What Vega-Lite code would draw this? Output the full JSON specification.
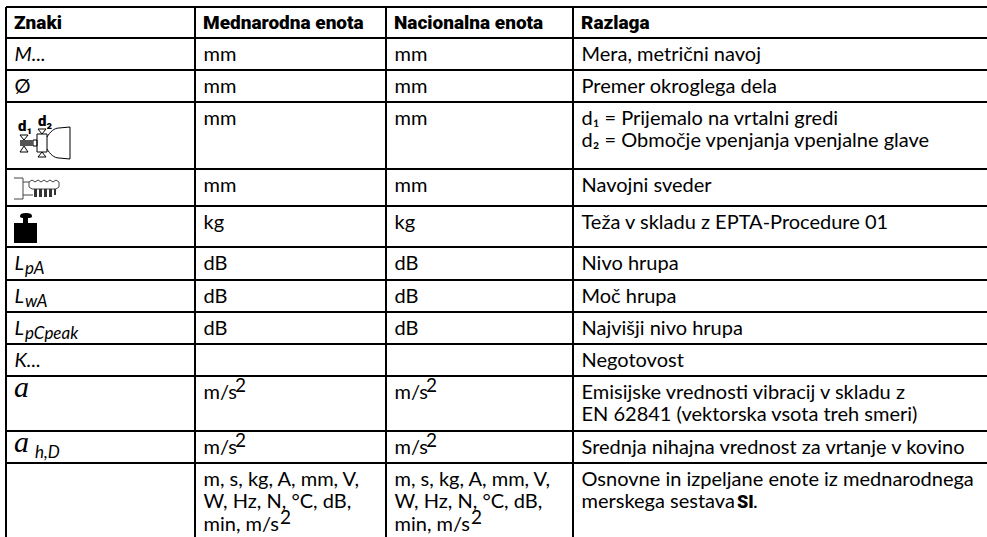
{"$schema":"https://vega.github.io/schema/vega-lite/v6.json","width":987,"height":537,"padding":0,"autosize":{"type":"none"},"background":"white","config":{"view":{"stroke":null}},
"datasets":{"cells":[
{"row":1,"col":1,"text":"Znaki","kind":"head"},{"row":1,"col":2,"text":"Mednarodna enota","kind":"head"},{"row":1,"col":3,"text":"Nacionalna enota","kind":"head"},{"row":1,"col":4,"text":"Razlaga","kind":"head"},
{"row":2,"col":1,"text":"M...","kind":"sym"},{"row":2,"col":2,"text":"mm","kind":"body"},{"row":2,"col":3,"text":"mm","kind":"body"},{"row":2,"col":4,"text":"Mera, metrični navoj","kind":"body"},
{"row":3,"col":1,"text":"Ø","kind":"body"},{"row":3,"col":2,"text":"mm","kind":"body"},{"row":3,"col":3,"text":"mm","kind":"body"},{"row":3,"col":4,"text":"Premer okroglega dela","kind":"body"},
{"row":4,"col":2,"text":"mm","kind":"body"},{"row":4,"col":3,"text":"mm","kind":"body"},{"row":4,"col":4,"text":"d₁ = Prijemalo na vrtalni gredi\nd₂ = Območje vpenjanja vpenjalne glave","kind":"body"},
{"row":5,"col":2,"text":"mm","kind":"body"},{"row":5,"col":3,"text":"mm","kind":"body"},{"row":5,"col":4,"text":"Navojni sveder","kind":"body"},
{"row":6,"col":2,"text":"kg","kind":"body"},{"row":6,"col":3,"text":"kg","kind":"body"},{"row":6,"col":4,"text":"Teža v skladu z EPTA-Procedure 01","kind":"body"},
{"row":7,"col":1,"text":"L","kind":"sym"},{"row":7,"col":1,"text":"pA","kind":"sub"},{"row":7,"col":2,"text":"dB","kind":"body"},{"row":7,"col":3,"text":"dB","kind":"body"},{"row":7,"col":4,"text":"Nivo hrupa","kind":"body"},
{"row":8,"col":1,"text":"L","kind":"sym"},{"row":8,"col":1,"text":"wA","kind":"sub"},{"row":8,"col":2,"text":"dB","kind":"body"},{"row":8,"col":3,"text":"dB","kind":"body"},{"row":8,"col":4,"text":"Moč hrupa","kind":"body"},
{"row":9,"col":1,"text":"L","kind":"sym"},{"row":9,"col":1,"text":"pCpeak","kind":"sub"},{"row":9,"col":2,"text":"dB","kind":"body"},{"row":9,"col":3,"text":"dB","kind":"body"},{"row":9,"col":4,"text":"Najvišji nivo hrupa","kind":"body"},
{"row":10,"col":1,"text":"K...","kind":"sym"},{"row":10,"col":4,"text":"Negotovost","kind":"body"},
{"row":11,"col":1,"text":"a","kind":"big"},{"row":11,"col":2,"text":"m/s","kind":"body"},{"row":11,"col":2,"text":"2","kind":"sup"},{"row":11,"col":3,"text":"m/s","kind":"body"},{"row":11,"col":3,"text":"2","kind":"sup"},{"row":11,"col":4,"text":"Emisijske vrednosti vibracij v skladu z\nEN 62841 (vektorska vsota treh smeri)","kind":"body"},
{"row":12,"col":1,"text":"a","kind":"big"},{"row":12,"col":1,"text":"h,D","kind":"subfar"},{"row":12,"col":2,"text":"m/s","kind":"body"},{"row":12,"col":2,"text":"2","kind":"sup"},{"row":12,"col":3,"text":"m/s","kind":"body"},{"row":12,"col":3,"text":"2","kind":"sup"},{"row":12,"col":4,"text":"Srednja nihajna vrednost za vrtanje v kovino","kind":"body"},
{"row":13,"col":2,"text":"m, s, kg, A, mm, V,\nW, Hz, N, °C, dB,\nmin, m/s","kind":"body"},{"row":13,"col":2,"text":"2","kind":"suplast"},{"row":13,"col":3,"text":"m, s, kg, A, mm, V,\nW, Hz, N, °C, dB,\nmin, m/s","kind":"body"},{"row":13,"col":3,"text":"2","kind":"suplast"},{"row":13,"col":4,"text":"Osnovne in izpeljane enote iz mednarodnega\nmerskega sestava","kind":"body"},{"row":13,"col":4,"text":"SI","kind":"si"},{"row":13,"col":4,"text":".","kind":"dot"},
{"row":4,"col":1,"text":"d₁","kind":"d1"},{"row":4,"col":1,"text":"d₂","kind":"d2"}
],
"hlines":[{"row":1,"col":1,"end":5},{"row":2,"col":1,"end":5},{"row":3,"col":1,"end":5},{"row":4,"col":1,"end":5},{"row":5,"col":1,"end":5},{"row":6,"col":1,"end":5},{"row":7,"col":1,"end":5},{"row":8,"col":1,"end":5},{"row":9,"col":1,"end":5},{"row":10,"col":1,"end":5},{"row":11,"col":1,"end":5},{"row":12,"col":1,"end":5},{"row":13,"col":1,"end":5}],
"vlines":[{"col":1,"row":1,"end":14},{"col":2,"row":1,"end":14},{"col":3,"row":1,"end":14},{"col":4,"row":1,"end":14}],
"chuck":[{"row":4,"col":1}],"tap":[{"row":5,"col":1}],"weight":[{"row":6,"col":1}]},
"encoding":{"x":{"field":"col","type":"quantitative","axis":null,"scale":{"type":"linear","domain":[1,2,3,4,5],"range":[6,195,386,573,987]}},
"y":{"field":"row","type":"quantitative","axis":null,"scale":{"type":"linear","domain":[1,2,3,4,5,6,7,8,9,10,11,12,13,14],"range":[7,38,70,102,169,206,247,280,312,344,376,431,463,537]}}},
"layer":[
{"data":{"name":"hlines"},"mark":{"type":"rule","stroke":"#000","strokeWidth":2},"encoding":{"x2":{"field":"end"}}},
{"data":{"name":"vlines"},"mark":{"type":"rule","stroke":"#000","strokeWidth":2},"encoding":{"y2":{"field":"end"}}},
{"data":{"name":"cells"},"transform":[{"filter":"datum.kind=='head'"}],"mark":{"type":"text","align":"left","baseline":"alphabetic","font":"Roboto","fontWeight":900,"fontSize":19,"dx":8,"dy":22,"fill":"#000"},"encoding":{"text":{"field":"text"}}},
{"data":{"name":"cells"},"transform":[{"filter":"datum.kind=='body'"}],"mark":{"type":"text","align":"left","baseline":"alphabetic","font":"Lato","fontSize":20,"lineBreak":"\n","lineHeight":22.5,"dx":8.5,"dy":22.5,"fill":"#000"},"encoding":{"text":{"field":"text"}}},
{"data":{"name":"cells"},"transform":[{"filter":"datum.kind=='sym'"}],"mark":{"type":"text","align":"left","baseline":"alphabetic","font":"Lato","fontStyle":"italic","fontSize":20,"dx":8.5,"dy":22.5,"fill":"#000"},"encoding":{"text":{"field":"text"}}},
{"data":{"name":"cells"},"transform":[{"filter":"datum.kind=='big'"}],"mark":{"type":"text","align":"left","baseline":"alphabetic","font":"Liberation Serif","fontStyle":"italic","fontSize":30,"dx":8,"dy":21,"fill":"#000"},"encoding":{"text":{"field":"text"}}},
{"data":{"name":"cells"},"transform":[{"filter":"datum.kind=='sub'"}],"mark":{"type":"text","align":"left","baseline":"alphabetic","font":"Lato","fontStyle":"italic","fontSize":17,"dx":19,"dy":27,"fill":"#000"},"encoding":{"text":{"field":"text"}}},
{"data":{"name":"cells"},"transform":[{"filter":"datum.kind=='subfar'"}],"mark":{"type":"text","align":"left","baseline":"alphabetic","font":"Lato","fontStyle":"italic","fontSize":17,"dx":29,"dy":27,"fill":"#000"},"encoding":{"text":{"field":"text"}}},
{"data":{"name":"cells"},"transform":[{"filter":"datum.kind=='sup'"}],"mark":{"type":"text","align":"left","baseline":"alphabetic","font":"Lato","fontSize":19,"dx":40,"dy":16,"fill":"#000"},"encoding":{"text":{"field":"text"}}},
{"data":{"name":"cells"},"transform":[{"filter":"datum.kind=='suplast'"}],"mark":{"type":"text","align":"left","baseline":"alphabetic","font":"Lato","fontSize":19,"dx":85,"dy":61,"fill":"#000"},"encoding":{"text":{"field":"text"}}},
{"data":{"name":"cells"},"transform":[{"filter":"datum.kind=='si'"}],"mark":{"type":"text","align":"left","baseline":"alphabetic","font":"Roboto","fontWeight":900,"fontSize":18,"dx":164,"dy":45,"fill":"#000"},"encoding":{"text":{"field":"text"}}},
{"data":{"name":"cells"},"transform":[{"filter":"datum.kind=='dot'"}],"mark":{"type":"text","align":"left","baseline":"alphabetic","font":"Lato","fontSize":20,"dx":180,"dy":45,"fill":"#000"},"encoding":{"text":{"field":"text"}}},
{"data":{"name":"cells"},"transform":[{"filter":"datum.kind=='d1'"}],"mark":{"type":"text","align":"left","baseline":"alphabetic","font":"Roboto","fontWeight":900,"fontSize":15,"dx":12,"dy":29,"fill":"#000"},"encoding":{"text":{"field":"text"}}},
{"data":{"name":"cells"},"transform":[{"filter":"datum.kind=='d2'"}],"mark":{"type":"text","align":"left","baseline":"alphabetic","font":"Roboto","fontWeight":900,"fontSize":15,"dx":32,"dy":24,"fill":"#000"},"encoding":{"text":{"field":"text"}}},
{"data":{"name":"chuck"},"mark":{"type":"point","size":4,"filled":false,"stroke":"#000","strokeWidth":1,"opacity":1,"shape":"M31 32H41V50H31Z M41 35C44 30 48 26 53 26L64 25V57L53 56C48 56 44 52 41 47 M27 38H31V44H27Z M14 33H22L18 38Z M14 50H22L18 44Z M32 27H40L36 32Z M32 55H40L36 50Z"}},
{"data":{"name":"chuck"},"mark":{"type":"point","size":4,"filled":true,"fill":"#555","opacity":1,"shape":"M14 38H27V44H14Z"}},
{"data":{"name":"tap"},"mark":{"type":"point","size":4,"filled":false,"stroke":"#444","strokeWidth":1,"opacity":1,"shape":"M8 9H17V30H8 M17 13H23 M17 26H27 M23 13L26 11L29 13L32 11L35 13L38 11L41 13L44 11L47 13L50 11L53 13V18L50 20H26L23 18Z"}},
{"data":{"name":"tap"},"mark":{"type":"point","size":4,"filled":true,"fill":"#333","opacity":1,"shape":"M28 20H31V28H28Z M33 20H36V28H33Z M38 20H41V28H38Z M43 20H46V28H43Z M48 20H50V26H48Z"}},
{"data":{"name":"weight"},"mark":{"type":"point","size":4,"filled":true,"fill":"#000","opacity":1,"shape":"M8 17H31V37H8Z M17 12H22V17H17Z M14 10C14 8 16 7 20 7C24 7 26 8 26 10C26 12 24 12 20 12C16 12 14 12 14 10Z"}}
]}
